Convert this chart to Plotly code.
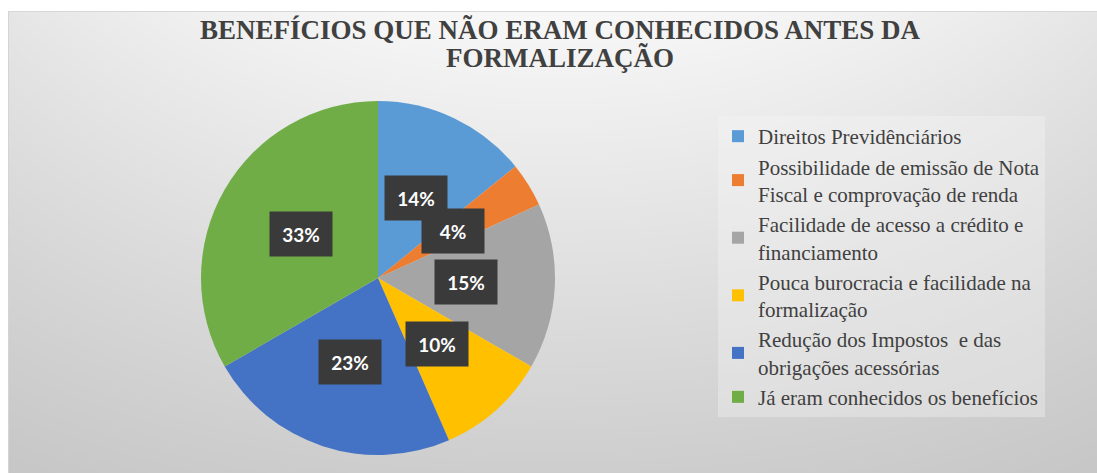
import math, zlib, struct, base64
import numpy as np
import plotly.graph_objects as go

# ---- data ----
categories = [
    "Direitos Previdênciários",
    "Possibilidade de emissão de Nota<br>Fiscal e comprovação de renda",
    "Facilidade de acesso a crédito e<br>financiamento",
    "Pouca burocracia e facilidade na<br>formalização",
    "Redução dos Impostos  e das<br>obrigações acessórias",
    "Já eram conhecidos os benefícios",
]
values = [14, 4, 15, 10, 23, 33]
colors = ["#5B9BD5", "#ED7D31", "#A5A5A5", "#FFC000", "#4472C4", "#70AD47"]
title_lines = ["BENEFÍCIOS QUE NÃO ERAM CONHECIDOS ANTES DA", "FORMALIZAÇÃO"]

W, H = 1097, 473

# ---- background gradient image (chart area) ----
x0p, y0p = 8, 11
bw, bh = W - x0p, H - y0p
xs = np.linspace(-1, 1, bw)
ys = np.linspace(0, 1, bh)
tx, ty = np.meshgrid(np.abs(xs), ys)
g = 248 - 42 * ty - 18 * tx**2 * (1 - 0.6 * ty)
g[0, :] = 215
g[:, 0] = 212
g = np.clip(g, 0, 255).astype(np.uint8)
raw = b"".join(b"\x00" + row.tobytes() for row in g)
def chunk(t, d):
    c = struct.pack(">I", len(d)) + t + d
    return c + struct.pack(">I", zlib.crc32(t + d) & 0xffffffff)
png = (b"\x89PNG\r\n\x1a\n" + chunk(b"IHDR", struct.pack(">IIBBBBB", bw, bh, 8, 0, 0, 0, 0))
       + chunk(b"IDAT", zlib.compress(raw, 9)) + chunk(b"IEND", b""))
bg_uri = "data:image/png;base64," + base64.b64encode(png).decode()

# ---- pie geometry (pixels) ----
cx_px, cy_px, R_px = 378, 278, 177
dom_x = [(cx_px - R_px) / W, (cx_px + R_px) / W]
dom_y = [(H - cy_px - R_px) / H, (H - cy_px + R_px) / H]

fig = go.Figure()
fig.add_trace(go.Pie(
    labels=categories, values=values, sort=False, direction="clockwise",
    rotation=0, marker=dict(colors=colors, line=dict(width=0)),
    textinfo="none", hoverinfo="label+percent", domain=dict(x=dom_x, y=dom_y),
))

# label boxes placed at the middle angle of each slice
total = sum(values)
annotations = []
cum = 0
for v in values:
    mid = (cum + v / 2) / total * 2 * math.pi
    cum += v
    rl = 0.5 * R_px
    ax = (cx_px + rl * math.sin(mid)) / W
    ay = (H - cy_px + rl * math.cos(mid)) / H
    annotations.append(dict(
        x=ax, y=ay, xref="paper", yref="paper", showarrow=False,
        text=f"{round(v / total * 100)}%",
        font=dict(family="Lato", size=19, color="white", weight="bold"),
        bgcolor="#3a3a3a", width=46, height=28, borderpad=8,
        xanchor="center", yanchor="middle",
    ))

# title lines
for i, line in enumerate(title_lines):
    annotations.append(dict(
        x=560 / W, y=1 - (30 + 28 * i) / H, xref="paper", yref="paper",
        showarrow=False, text=line, xanchor="center", yanchor="middle",
        font=dict(family="Liberation Serif", size=27, color="#404040", weight="bold"),
    ))

fig.update_layout(
    width=W, height=H, autosize=False,
    margin=dict(l=0, r=0, t=0, b=0),
    paper_bgcolor="white", plot_bgcolor="white",
    images=[dict(source=bg_uri, xref="paper", yref="paper", x=x0p / W, y=1 - y0p / H,
                 sizex=bw / W, sizey=bh / H, xanchor="left", yanchor="top",
                 sizing="stretch", layer="below")],
    legend=dict(x=718 / W, y=1 - 116 / H, xanchor="left", yanchor="top",
                font=dict(family="Liberation Serif", size=21, color="#404040"),
                bgcolor="rgba(245,245,245,0.35)", itemwidth=30, traceorder="normal"),
    annotations=annotations,
    showlegend=True,
)

fig.write_html("out.html", config={"displayModeBar": False},
               post_script="document.body.style.margin='0px';")
